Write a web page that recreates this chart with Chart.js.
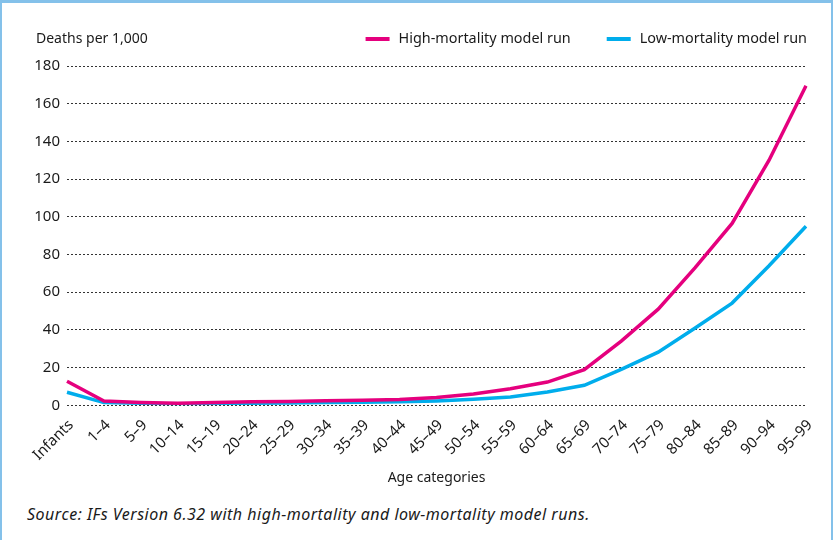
<!DOCTYPE html>
<html>
<head>
<meta charset="utf-8">
<script src="https://cdn.jsdelivr.net/npm/chart.js@4.4.1/dist/chart.umd.min.js"></script>
<style>
  html, body { margin: 0; padding: 0; background: #fff; }
  .frame {
    position: absolute; left: 0; top: 0;
    width: 829px; height: 537px;
    border-top: 3px solid #84c1ea;
    border-left: 2px solid #84c1ea;
    border-right: 2px solid #84c1ea;
  }
  .plot { position: absolute; left: 0; top: 0; width: 829px; height: 490px; }
  .source {
    position: absolute; left: 25px; top: 500px;
    font-family: "Noto Sans", sans-serif; font-style: italic;
    font-size: 16px; letter-spacing: 0.5px; color: #1a1a1a;
  }
</style>
</head>
<body>
<div class="frame">
  <div class="plot"><canvas id="chart"></canvas></div>
  <div class="source">Source: IFs Version 6.32 with high-mortality and low-mortality model runs.</div>
</div>
<script>
const ageCategories = ['Infants', '1–4', '5–9', '10–14', '15–19', '20–24', '25–29', '30–34', '35–39', '40–44',
  '45–49', '50–54', '55–59', '60–64', '65–69', '70–74', '75–79', '80–84', '85–89', '90–94', '95–99'];
const highMortality = [12.7, 2.2, 1.5, 1.0, 1.5, 1.8, 2.0, 2.4, 2.6, 3.0, 4.1, 6.0, 8.8, 12.3, 18.9, 34, 51, 73, 96.5, 130, 169.5];
const lowMortality = [6.9, 1.4, 1.0, 0.7, 0.9, 1.1, 1.2, 1.5, 1.6, 1.8, 2.3, 3.2, 4.4, 7.0, 10.6, 19, 28.2, 41, 54.2, 74, 95];
const yTicks = [0, 20, 40, 60, 80, 100, 120, 140, 160, 180];

const colors = { high: '#e5007e', low: '#00adec', text: '#1a1a1a' };
const fontFamily = '"Noto Sans", sans-serif';

// y title on the left, legend on the right, both on the same line above the plot
const headerPlugin = {
  id: 'header',
  afterDraw(chart) {
    const { ctx, chartArea } = chart;
    const y = chartArea.top - 27;
    ctx.save();
    ctx.textBaseline = 'middle';
    ctx.fillStyle = colors.text;
    ctx.font = '14px ' + fontFamily;
    ctx.textAlign = 'left';
    ctx.fillText('Deaths per 1,000', 34, y);

    ctx.font = '14.4px ' + fontFamily;
    let x = chartArea.right + 1;
    const items = chart.data.datasets.slice().reverse();
    items.forEach(ds => {
      const w = ctx.measureText(ds.label).width;
      x -= w;
      ctx.fillStyle = colors.text;
      ctx.fillText(ds.label, x, y);
      x -= 9;
      ctx.strokeStyle = ds.borderColor;
      ctx.lineWidth = 4;
      ctx.beginPath();
      ctx.moveTo(x - 24, y);
      ctx.lineTo(x, y);
      ctx.stroke();
      x -= 24 + 36;
    });
    ctx.restore();
  }
};

new Chart(document.getElementById('chart'), {
  type: 'line',
  data: {
    labels: ageCategories,
    datasets: [
      { label: 'High-mortality model run', data: highMortality, borderColor: colors.high, backgroundColor: colors.high },
      { label: 'Low-mortality model run', data: lowMortality, borderColor: colors.low, backgroundColor: colors.low }
    ]
  },
  options: {
    responsive: true,
    maintainAspectRatio: false,
    animation: false,
    layout: { padding: { top: 63, right: 25, bottom: 7, left: 0 } },
    elements: {
      line: { borderWidth: 3.5, tension: 0 },
      point: { radius: 0 }
    },
    scales: {
      x: {
        offset: false,
        grid: { display: false },
        border: { display: false },
        ticks: {
          color: colors.text, font: { family: fontFamily, size: 15 },
          minRotation: 45, maxRotation: 45, autoSkip: false, padding: 3, labelOffset: 4
        },
        title: {
          display: true, text: 'Age categories', color: colors.text,
          font: { family: fontFamily, size: 14 }, padding: { top: 2, bottom: 0 }
        }
      },
      y: {
        min: 0, max: 180,
        afterFit(scale) { scale.width = 65; },
        afterBuildTicks(scale) { scale.ticks = yTicks.map(v => ({ value: v })); },
        grid: { color: '#333', lineWidth: 1, drawTicks: false },
        border: { display: false, dash: [2, 2] },
        ticks: { color: colors.text, font: { family: fontFamily, size: 15 }, padding: 7 }
      }
    },
    plugins: {
      legend: { display: false },
      tooltip: { enabled: false }
    }
  },
  plugins: [headerPlugin]
});
</script>
</body>
</html>
